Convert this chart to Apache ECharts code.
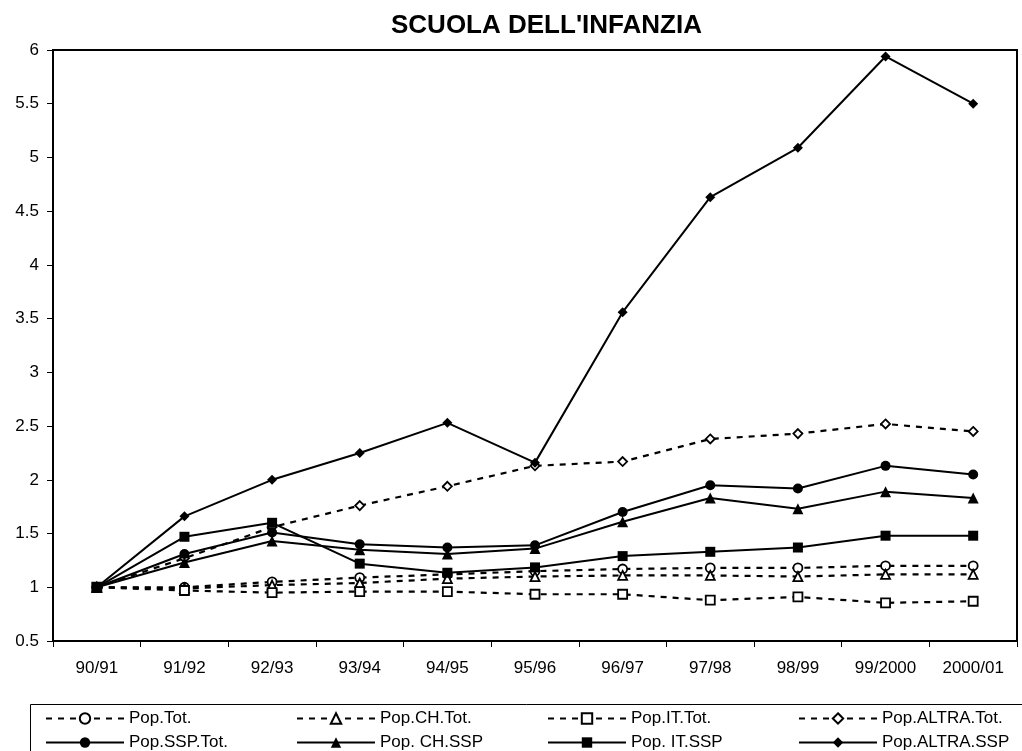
<!DOCTYPE html>
<html>
<head>
<meta charset="utf-8">
<script src="https://cdn.jsdelivr.net/npm/echarts@6/dist/echarts.min.js"></script>
<style>
html,body{margin:0;padding:0;background:#fff;}
#chart{width:1022px;height:751px;}
</style>
</head>
<body>
<div id="chart"></div>
<script>
var categories = ['90/91','91/92','92/93','93/94','94/95','95/96','96/97','97/98','98/99','99/2000','2000/01'];
var yTicks = { min: 0.5, max: 6, interval: 0.5 };

var popTot      = [1, 1.00, 1.05, 1.09, 1.12, 1.15, 1.17, 1.18, 1.18, 1.20, 1.20];
var popChTot    = [1, 0.99, 1.02, 1.04, 1.08, 1.10, 1.11, 1.11, 1.10, 1.12, 1.12];
var popItTot    = [1, 0.97, 0.95, 0.96, 0.96, 0.935, 0.935, 0.88, 0.91, 0.855, 0.87];
var popAltraTot = [1, 1.27, 1.56, 1.76, 1.94, 2.13, 2.17, 2.38, 2.43, 2.52, 2.45];
var popSspTot   = [1, 1.31, 1.51, 1.40, 1.37, 1.39, 1.70, 1.95, 1.92, 2.13, 2.05];
var popChSsp    = [1, 1.23, 1.43, 1.35, 1.31, 1.36, 1.61, 1.83, 1.73, 1.89, 1.83];
var popItSsp    = [1, 1.47, 1.60, 1.22, 1.135, 1.185, 1.29, 1.33, 1.37, 1.48, 1.48];
var popAltraSsp = [1, 1.66, 2.00, 2.25, 2.53, 2.16, 3.56, 4.63, 5.09, 5.94, 5.50];

var names = ['Pop.Tot.','Pop.CH.Tot.','Pop.IT.Tot.','Pop.ALTRA.Tot.','Pop.SSP.Tot.','Pop. CH.SSP','Pop. IT.SSP','Pop.ALTRA.SSP'];
var values = [popTot, popChTot, popItTot, popAltraTot, popSspTot, popChSsp, popItSsp, popAltraSsp];
var symbols = ['circle','triangle','rect','diamond','circle','triangle','rect','diamond'];

var FONT = '"Liberation Sans", Arial, sans-serif';

var series = names.map(function (n, i) {
  var dashed = i < 4;
  var size = dashed ? 9 : (symbols[i] === 'triangle' ? 11 : 10);
  return {
    name: n,
    type: 'line',
    data: values[i],
    symbol: symbols[i],
    symbolSize: size,
    showAllSymbol: true,
    animation: false,
    lineStyle: { color: '#000', width: dashed ? 2.2 : 2, type: dashed ? [6, 6] : 'solid' },
    itemStyle: dashed
      ? { color: '#fff', borderColor: '#000', borderWidth: 1.8 }
      : { color: '#000', borderColor: '#000', borderWidth: 0 },
    emphasis: { disabled: true },
    z: 2 + i
  };
});

var colLeft = [45, 296, 547, 798];
var rowTop = [710, 734];
var legends = names.map(function (n, i) {
  return {
    data: [n],
    left: colLeft[i % 4],
    top: rowTop[Math.floor(i / 4)],
    padding: 0,
    itemWidth: 78,
    itemHeight: 13,
    itemGap: 0,
    selectedMode: false,
    textStyle: { fontSize: 17, color: '#000', fontFamily: FONT }
  };
});

var chart = echarts.init(document.getElementById('chart'), null, { renderer: 'canvas' });
chart.setOption({
  backgroundColor: '#fff',
  animation: false,
  title: {
    text: "SCUOLA DELL'INFANZIA",
    left: 391,
    top: 13,
    padding: 0,
    textStyle: { fontSize: 26, fontWeight: 'bold', color: '#000', fontFamily: FONT }
  },
  legend: legends,
  grid: {
    left: 53, right: 5, top: 50, bottom: 110,
    show: true, borderColor: '#000', borderWidth: 2, backgroundColor: '#fff'
  },
  xAxis: {
    type: 'category',
    data: categories,
    boundaryGap: true,
    axisLine: { lineStyle: { color: '#000', width: 2 } },
    axisTick: { show: true, length: 6, inside: false, lineStyle: { color: '#000', width: 1 } },
    axisLabel: { color: '#000', fontSize: 17, fontFamily: FONT, margin: 19, interval: 0 },
    splitLine: { show: false }
  },
  yAxis: {
    type: 'value',
    min: yTicks.min, max: yTicks.max, interval: yTicks.interval,
    axisLine: { show: true, lineStyle: { color: '#000', width: 2 } },
    axisTick: { show: true, length: 6, inside: false, lineStyle: { color: '#000', width: 1 } },
    axisLabel: { color: '#000', fontSize: 17, fontFamily: FONT, margin: 14 },
    splitLine: { show: false }
  },
  graphic: [{
    type: 'rect',
    left: 28, top: 702,
    shape: { width: 1100, height: 120 },
    style: { fill: 'none', stroke: '#000', lineWidth: 1 },
    z: 0, silent: true
  }],
  series: series
});
</script>
</body>
</html>
